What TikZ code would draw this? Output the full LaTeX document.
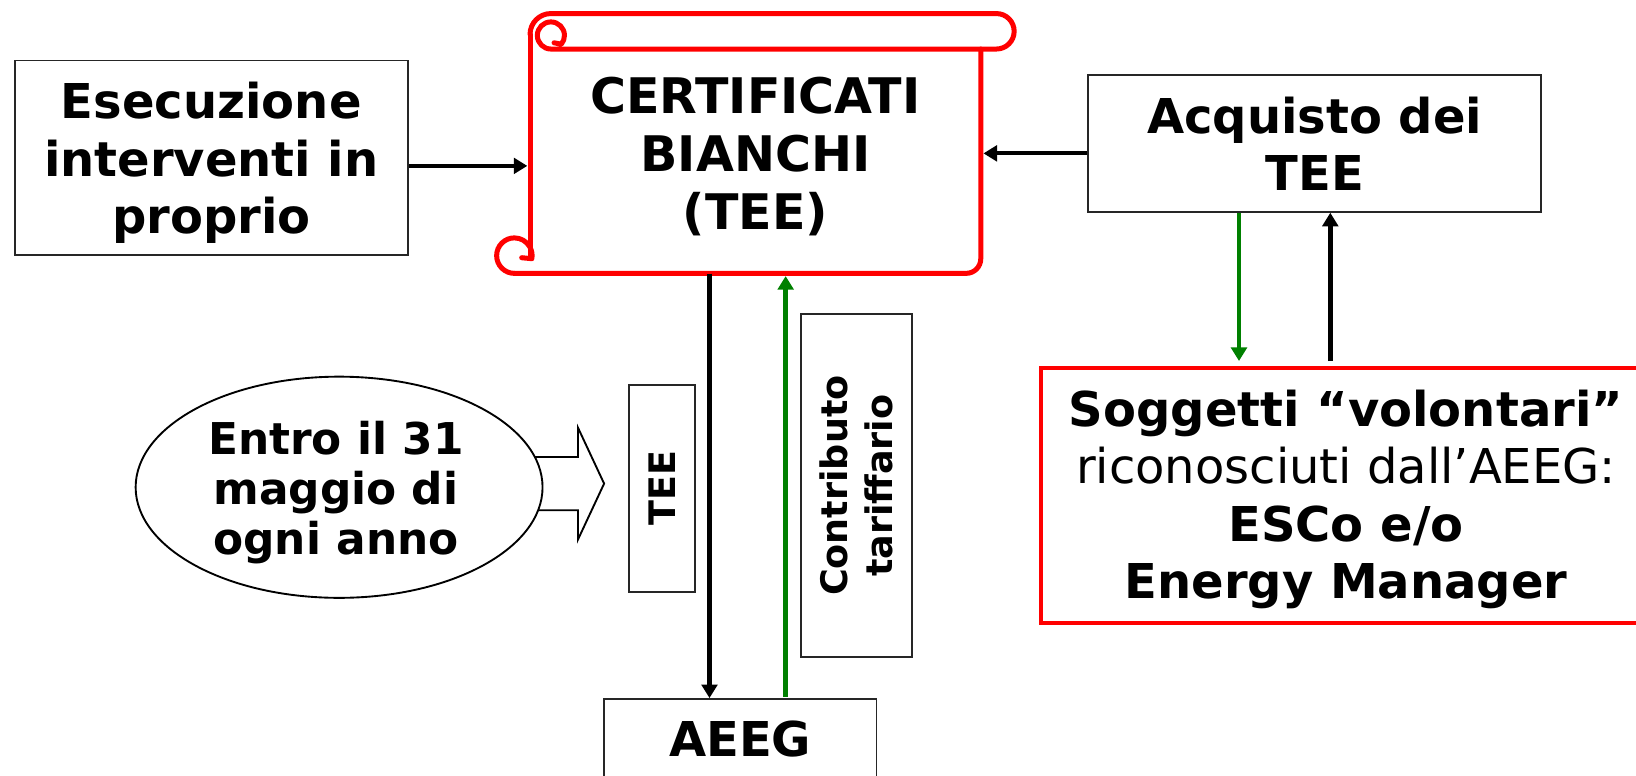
\documentclass[tikz,border=0pt]{standalone}
\usepackage{fontspec}
\setmainfont{DejaVu Sans}
\usetikzlibrary{arrows.meta,shapes.geometric,calc}
\definecolor{tgreen}{RGB}{0,128,0}
\definecolor{tred}{RGB}{255,0,0}
\begin{document}
\begin{tikzpicture}[x=1pt,y=-1pt,
  big/.style={font=\fontsize{46}{55}\selectfont\bfseries, align=center, inner sep=0pt},
  mid/.style={font=\fontsize{42}{48}\selectfont\bfseries, align=center, inner sep=0pt},
  small/.style={font=\fontsize{35}{43}\selectfont\bfseries, align=center, inner sep=0pt},
  box/.style={draw=black!85, line width=1.8pt, inner sep=0pt, fill=white},
  redbox/.style={draw=tred, line width=4pt, inner sep=0pt},
  scroll/.style={draw=tred, line width=4.8pt, line cap=round, line join=round},
  arr/.style={-{Triangle[length=13pt,width=15pt]}, line width=4.4pt},
]
\useasboundingbox (0,0) rectangle (1568,743);
\clip (0,0) rectangle (1568,743);
\fill[white] (0,0) rectangle (1568,743);

% left box
\node[box, minimum width=377pt, minimum height=186pt] (exec) at (202.5,151) {};
\node[big] (exect) at (202.5,156) {Esecuzione\\interventi in\\proprio};

% scroll
\node[inner sep=0pt, minimum width=432pt, minimum height=215pt] (cert) at (724,154.5) {};
\draw[scroll] (508,33) -- (508,246);
\draw[scroll] (493,262) -- (926,262) arc[start angle=90,end angle=0,radius=14] -- (940,47);
\draw[scroll] (508,33) arc[start angle=180,end angle=270,radius=20] -- (955,13)
  arc[start angle=270,end angle=450,radius=17] -- (528,47)
  arc[start angle=90,end angle=400,radius=13] -- (531,41);
\draw[scroll] (493,262) arc[start angle=90,end angle=370,radius=17] -- (500,247);
\node[big, font=\fontsize{47}{55.5}\selectfont\bfseries] (certt) at (724,150) {CERTIFICATI\\BIANCHI\\(TEE)};

% right top box
\node[box, minimum width=434pt, minimum height=131pt] (acq) at (1260,137.5) {};
\node[big] (acqt) at (1260,138) {Acquisto dei\\TEE};

% red box
\node[redbox, minimum width=584pt, minimum height=244pt] (sogg) at (1290,475) {};
\node[big] (soggt) at (1290,478.5) {Soggetti “volontari”\\{\mdseries riconosciuti dall’AEEG:}\\ESCo e/o\\Energy Manager};

% block arrow and ellipse
\draw[line width=1.8pt, fill=white, line join=miter] (500,438) -- (554,438) -- (554,410) -- (579,463.5) -- (554,517) -- (554,489) -- (500,489) -- cycle;
\node[draw, ellipse, line width=1.8pt, fill=white, minimum width=390pt, minimum height=212pt] (ell) at (325,467) {};
\node[mid] (ellt) at (322,472) {Entro il 31\\maggio di\\ogni anno};

% rotated boxes
\node[box, small, rotate=90, minimum width=198pt, minimum height=63pt] (tee) at (634.5,468) {TEE};
\node[box, small, rotate=90, minimum width=329pt, minimum height=106pt] (contr) at (821,465.5) {Contributo\\tariffario};

% AEEG
\node[box, minimum width=261pt, minimum height=76pt] (aeeg) at (709.5,708) {};
\node[big] (aeegt) at (709.5,708) {AEEG};

% connectors
\draw[arr, line width=4pt, shorten >=2.4pt] ($(exec.east)+(0,8)$) -- ($(cert.west)+(0,4.5)$);
\draw[arr, line width=4pt, shorten >=2.4pt] ($(acq.west)+(0,9.5)$) -- ($(cert.east)+(0,-7.5)$);
\draw[arr, tgreen, shorten >=5pt] ($(acq.south)+(-72.5,0)$) -- ($(sogg.north)+(-102.5,0)$);
\draw[arr, shorten <=5pt] ($(sogg.north)+(-15,0)$) -- ($(acq.south)+(15,0)$);
\draw[arr] ($(cert.south)+(-44,0)$) -- ($(aeeg.north)+(-29.5,0)$);
\draw[arr, tgreen, shorten >=2.4pt] ($(aeeg.north)+(43.5,-1)$) -- ($(cert.south)+(29,0)$);
\end{tikzpicture}
\end{document}
